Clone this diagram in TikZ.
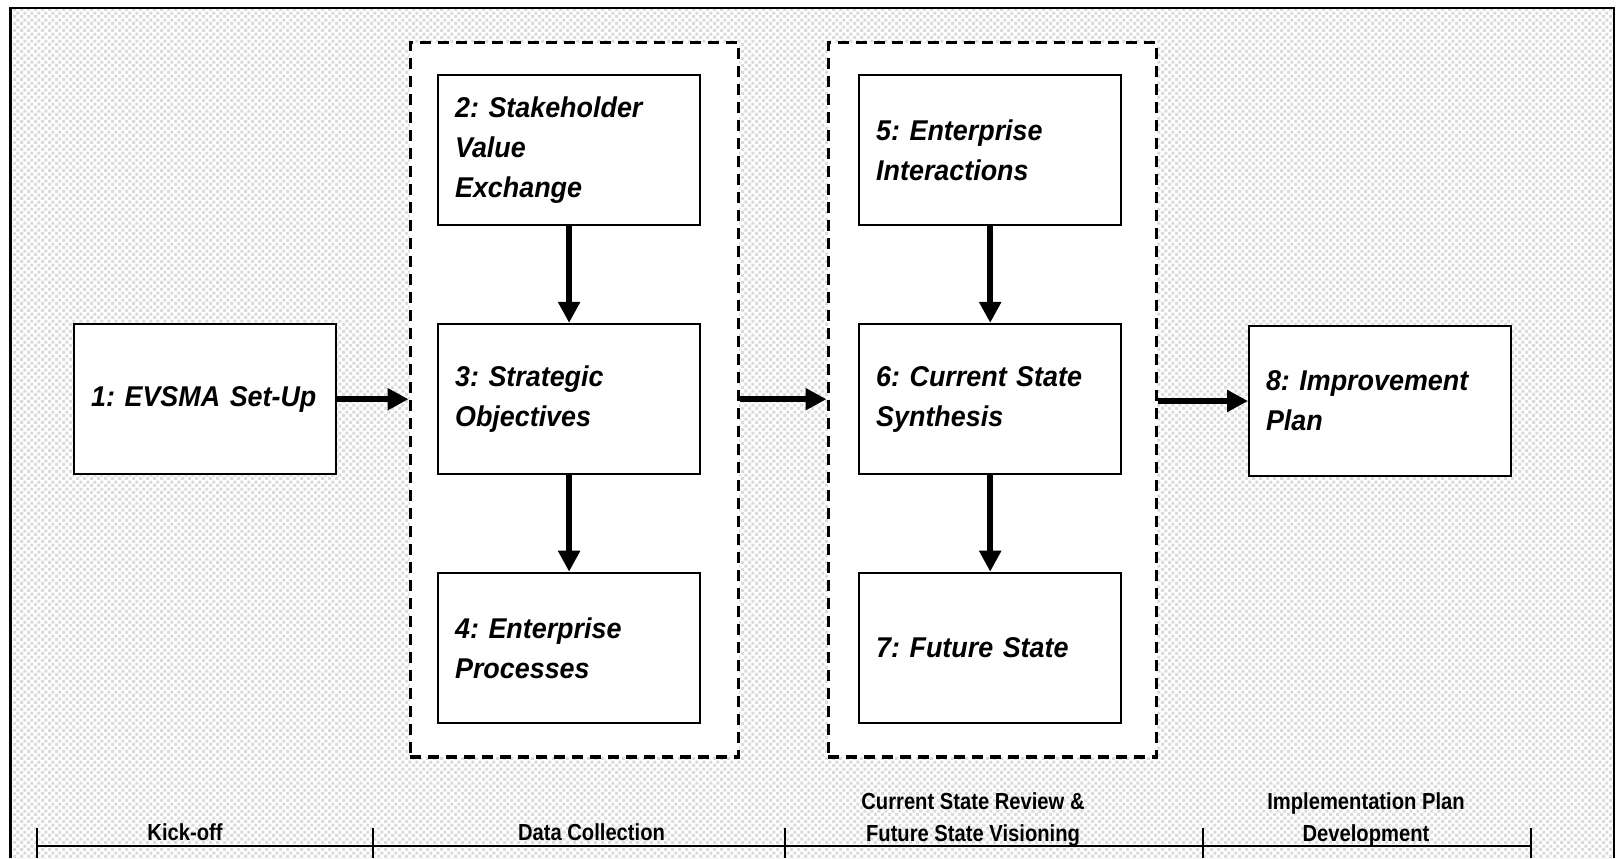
\documentclass[tikz,border=0pt]{standalone}
\usepackage{fontspec}
\setmainfont{Liberation Sans}
\newfontfamily\stepfont{Liberation Sans}[FakeStretch=0.94]
\newfontfamily\phasefont{Liberation Sans}[FakeStretch=0.87]
\usetikzlibrary{arrows.meta,patterns}
\frenchspacing

% light dotted paper texture for the sheet
\pgfdeclarepatternformonly{paperdots}{\pgfpointorigin}{\pgfpoint{3.4pt}{3.4pt}}{\pgfpoint{3.4pt}{3.4pt}}{%
  \pgfpathrectangle{\pgfpoint{0.1pt}{0.1pt}}{\pgfpoint{1.45pt}{1.45pt}}%
  \pgfpathrectangle{\pgfpoint{1.8pt}{1.8pt}}{\pgfpoint{1.45pt}{1.45pt}}%
  \pgfusepath{fill}}

\begin{document}
\begin{tikzpicture}[
  x=0.5pt, y=0.5pt,
  stagebox/.style={draw, line width=1pt, fill=white,
    minimum width=131pt, minimum height=75.3pt,
    text width=114pt, inner xsep=8.5pt, align=left,
    font=\stepfont\fontsize{14.3}{20}\selectfont\bfseries\itshape},
  groupbox/.style={draw, line width=1.6pt, dash pattern=on 5.5pt off 3.5pt,
    fill=white, inner sep=0pt, anchor=south west,
    minimum height=357pt},
  flow/.style={line width=3.2pt, -{Triangle[length=10.5pt,width=10.5pt]}},
  phaselabel/.style={anchor=base, align=center, inner sep=0pt,
    font=\phasefont\bfseries\fontsize{11.6}{16}\selectfont},
  rule/.style={line width=0.9pt}
]
\useasboundingbox (0,0) rectangle (1618,858);
\fill[white] (0,0) rectangle (1618,858);
\fill[pattern=paperdots, pattern color=black!14] (10.5,0) rectangle (1614,850);
\draw[line width=1.4pt] (10.5,0) -- (10.5,850) -- (1614,850) -- (1614,0);

% dashed phase groups
\node[groupbox, minimum width=164.2pt] (grpA) at (408.5,99.5) {};
\node[groupbox, minimum width=164.2pt] (grpB) at (826.5,99.5) {};

% process steps
\node[stagebox] (s1) at (205.2,458.8) {1: EVSMA Set-Up};
\node[stagebox] (s2) at (569.1,708)   {2: Stakeholder\\Value\\Exchange};
\node[stagebox] (s3) at (569.1,458.8) {3: Strategic\\Objectives};
\node[stagebox] (s4) at (569.1,210)   {4: Enterprise\\Processes};
\node[stagebox] (s5) at (990.2,708)   {5: Enterprise\\Interactions};
\node[stagebox] (s6) at (990.2,458.8) {6: Current State\\Synthesis};
\node[stagebox] (s7) at (990.2,210)   {7: Future State};
\node[stagebox] (s8) at (1380,457)    {8: Improvement\\Plan};

% flow between steps
\draw[flow] (s1.east) -- (s1.east -| grpA.west);
\draw[flow] (s2) -- (s3);
\draw[flow] (s3) -- (s4);
\draw[flow] (grpA.east |- s3.east) -- (grpB.west |- s3.east);
\draw[flow] (s5) -- (s6);
\draw[flow] (s6) -- (s7);
\draw[flow] (grpB.east |- s8.west) -- (s8.west);

% phase timeline
\coordinate (t0) at (36.7,30);
\coordinate (t1) at (372.9,30);
\coordinate (t2) at (785,30);
\coordinate (t3) at (1203.2,30);
\coordinate (t4) at (1531,30);
\draw[rule] (36.7,12) -- (1531,12);
\foreach \t in {t0,t1,t2,t3,t4} \draw[rule] (\t) -- (\t |- 0,0);

\node[phaselabel] (p1) at (185,18)   {Kick-off};
\node[phaselabel] (p2) at (591.5,18) {Data Collection};
\node[phaselabel] (p3) at (973,16.5) {Current State Review \&\\Future State Visioning};
\node[phaselabel] (p4) at (1366,16.5) {Implementation Plan\\Development};
\end{tikzpicture}
\end{document}
